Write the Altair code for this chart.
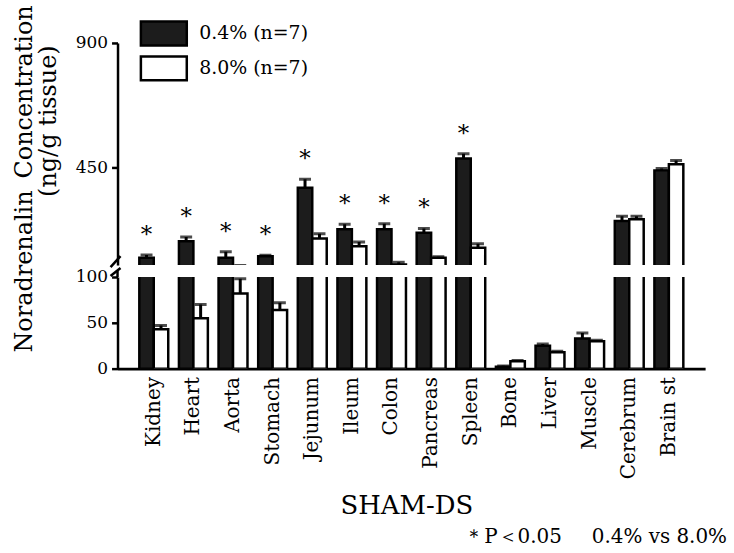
import altair as alt
import pandas as pd

# ---------------- data ----------------
organs = ["Kidney", "Heart", "Aorta", "Stomach", "Jejunum", "Ileum", "Colon",
          "Pancreas", "Spleen", "Bone", "Liver", "Muscle", "Cerebrum", "Brain st"]
series_labels = ["0.4% (n=7)", "8.0% (n=7)"]

mean_04 = [126, 186, 126, 132, 378, 229, 229, 216, 484, 2, 25, 33, 259, 441]
sem_04 = [10, 15, 22, 3, 31, 18, 20, 16, 17, 1, 2, 6, 17, 7]
mean_80 = [43, 55, 82, 64, 196, 168, 102, 126, 162, 8, 18, 30, 265, 463]
sem_80 = [4, 15, 16, 8, 17, 15, 8, 4, 15, 1, 1, 1, 11, 14]
significant = [1, 1, 1, 1, 1, 1, 1, 1, 1, 0, 0, 0, 0, 0]

rows = []
for i, o in enumerate(organs):
    rows.append(dict(organ=o, series=series_labels[0], mean=mean_04[i], sem=sem_04[i], sig=significant[i]))
for i, o in enumerate(organs):
    rows.append(dict(organ=o, series=series_labels[1], mean=mean_80[i], sem=sem_80[i], sig=0))
df = pd.DataFrame(rows)
df["upper"] = df["mean"] + df["sem"]

one = pd.DataFrame({"k": [0]})

FONT = "DejaVu Serif"
W = 590
DARK = "#1c1c1c"

x_scale = alt.Scale(domain=organs, paddingInner=0.27, paddingOuter=0.55)
xoff = alt.XOffset("series:N", scale=alt.Scale(domain=series_labels, paddingInner=0, paddingOuter=0))
fill_scale = alt.Scale(domain=series_labels, range=[DARK, "#ffffff"])


def panel(domain, height, yaxis, show_x, legend, top):
    yscale = alt.Scale(domain=domain, zero=False, nice=False)
    if show_x:
        xaxis = alt.Axis(labelAngle=270, labelFontSize=20, labelPadding=8, ticks=False,
                         domainWidth=3, title="SHAM-DS", titleFontSize=26, titlePadding=14,
                         titleFontWeight="normal", labelFont=FONT, titleFont=FONT, titleX=290)
    else:
        xaxis = None
    x = alt.X("organ:N", sort=organs, scale=x_scale, axis=xaxis)
    base = alt.Chart(df)
    bars = base.mark_bar(clip=True, stroke="black", strokeWidth=2.5).encode(
        x=x, xOffset=xoff,
        y=alt.Y("mean:Q", scale=yscale, axis=yaxis),
        fill=alt.Fill("series:N", scale=fill_scale, legend=legend),
        order=alt.Order("series:N"),
    )
    stems = base.mark_rule(clip=True, color="black", strokeWidth=3).encode(
        x=x, xOffset=xoff, y="mean:Q", y2="upper:Q")
    caps = base.mark_tick(clip=True, color="black", orient="horizontal", size=12, thickness=3).encode(
        x=x, xOffset=xoff, y="upper:Q")
    layers = [bars, stems, caps]
    if top:
        stars = base.transform_filter(alt.datum.sig == 1).mark_text(
            text="*", fontSize=23, font=FONT, dy=-13, baseline="alphabetic", color="black"
        ).encode(x=x, xOffset=xoff, y="upper:Q")
        brk = alt.Chart(one).mark_rule(color="black", strokeWidth=2.5).encode(
            x=alt.value(-7), x2=alt.value(3), y=alt.value(225), y2=alt.value(214))
        layers += [stars, brk]
    else:
        brk = alt.Chart(one).mark_rule(color="black", strokeWidth=2.5).encode(
            x=alt.value(-7), x2=alt.value(3), y=alt.value(-1), y2=alt.value(-9))
        stub = alt.Chart(one).mark_rule(color="black", strokeWidth=2.5).encode(
            x=alt.value(0), y=alt.value(-6), y2=alt.value(0))
        layers += [brk, stub]
    return alt.layer(*layers).properties(width=W, height=height)


common_axis = dict(domainWidth=2.5, tickWidth=2.5, tickSize=6, labelFontSize=17,
                   labelPadding=4, labelFont=FONT, titleFont=FONT, titleFontSize=24,
                   titleFontWeight="normal", titleAngle=270, titleAlign="center",
                   titleBaseline="middle", grid=False)

upper_axis = alt.Axis(values=[450, 900], title="Noradrenalin\u2002Concentration",
                      titleX=-93, titleY=136, **common_axis)
lower_axis = alt.Axis(values=[0, 50, 100], title="(ng/g tissue)",
                      titleX=-69, titleY=-157, **common_axis)

legend = alt.Legend(orient="none", legendX=29, legendY=-27, title=None,
                    symbolType="M-1.44,-0.75H1.44V0.75H-1.44Z", symbolSize=1024,
                    symbolStrokeColor="black", symbolStrokeWidth=2.5, symbolOpacity=1,
                    labelFont=FONT, labelFontSize=19, labelOffset=18, rowPadding=0,
                    labelColor="black")

upper = panel([100, 900], 223, upper_axis, False, legend, True)
lower = panel([0, 100], 92, lower_axis, True, None, False)

chart = alt.vconcat(upper, lower, spacing=12, bounds="flush").resolve_scale(fill="independent").properties(
    title=alt.TitleParams(text="\uff0aP\uff1c0.05\u2003\u20020.4% vs 8.0%", orient="bottom", anchor="end",
                          fontSize=20, font=FONT, fontWeight="normal", offset=8, dx=22,
                          color="black"),
    padding={"left": 12, "top": 3, "right": 7, "bottom": 5},
    background="white",
).configure_view(stroke=None).configure_axis(
    domainColor="black", tickColor="black", labelColor="black", titleColor="black"
)

chart.save("out.html", embed_options={"renderer": "svg", "actions": False})
